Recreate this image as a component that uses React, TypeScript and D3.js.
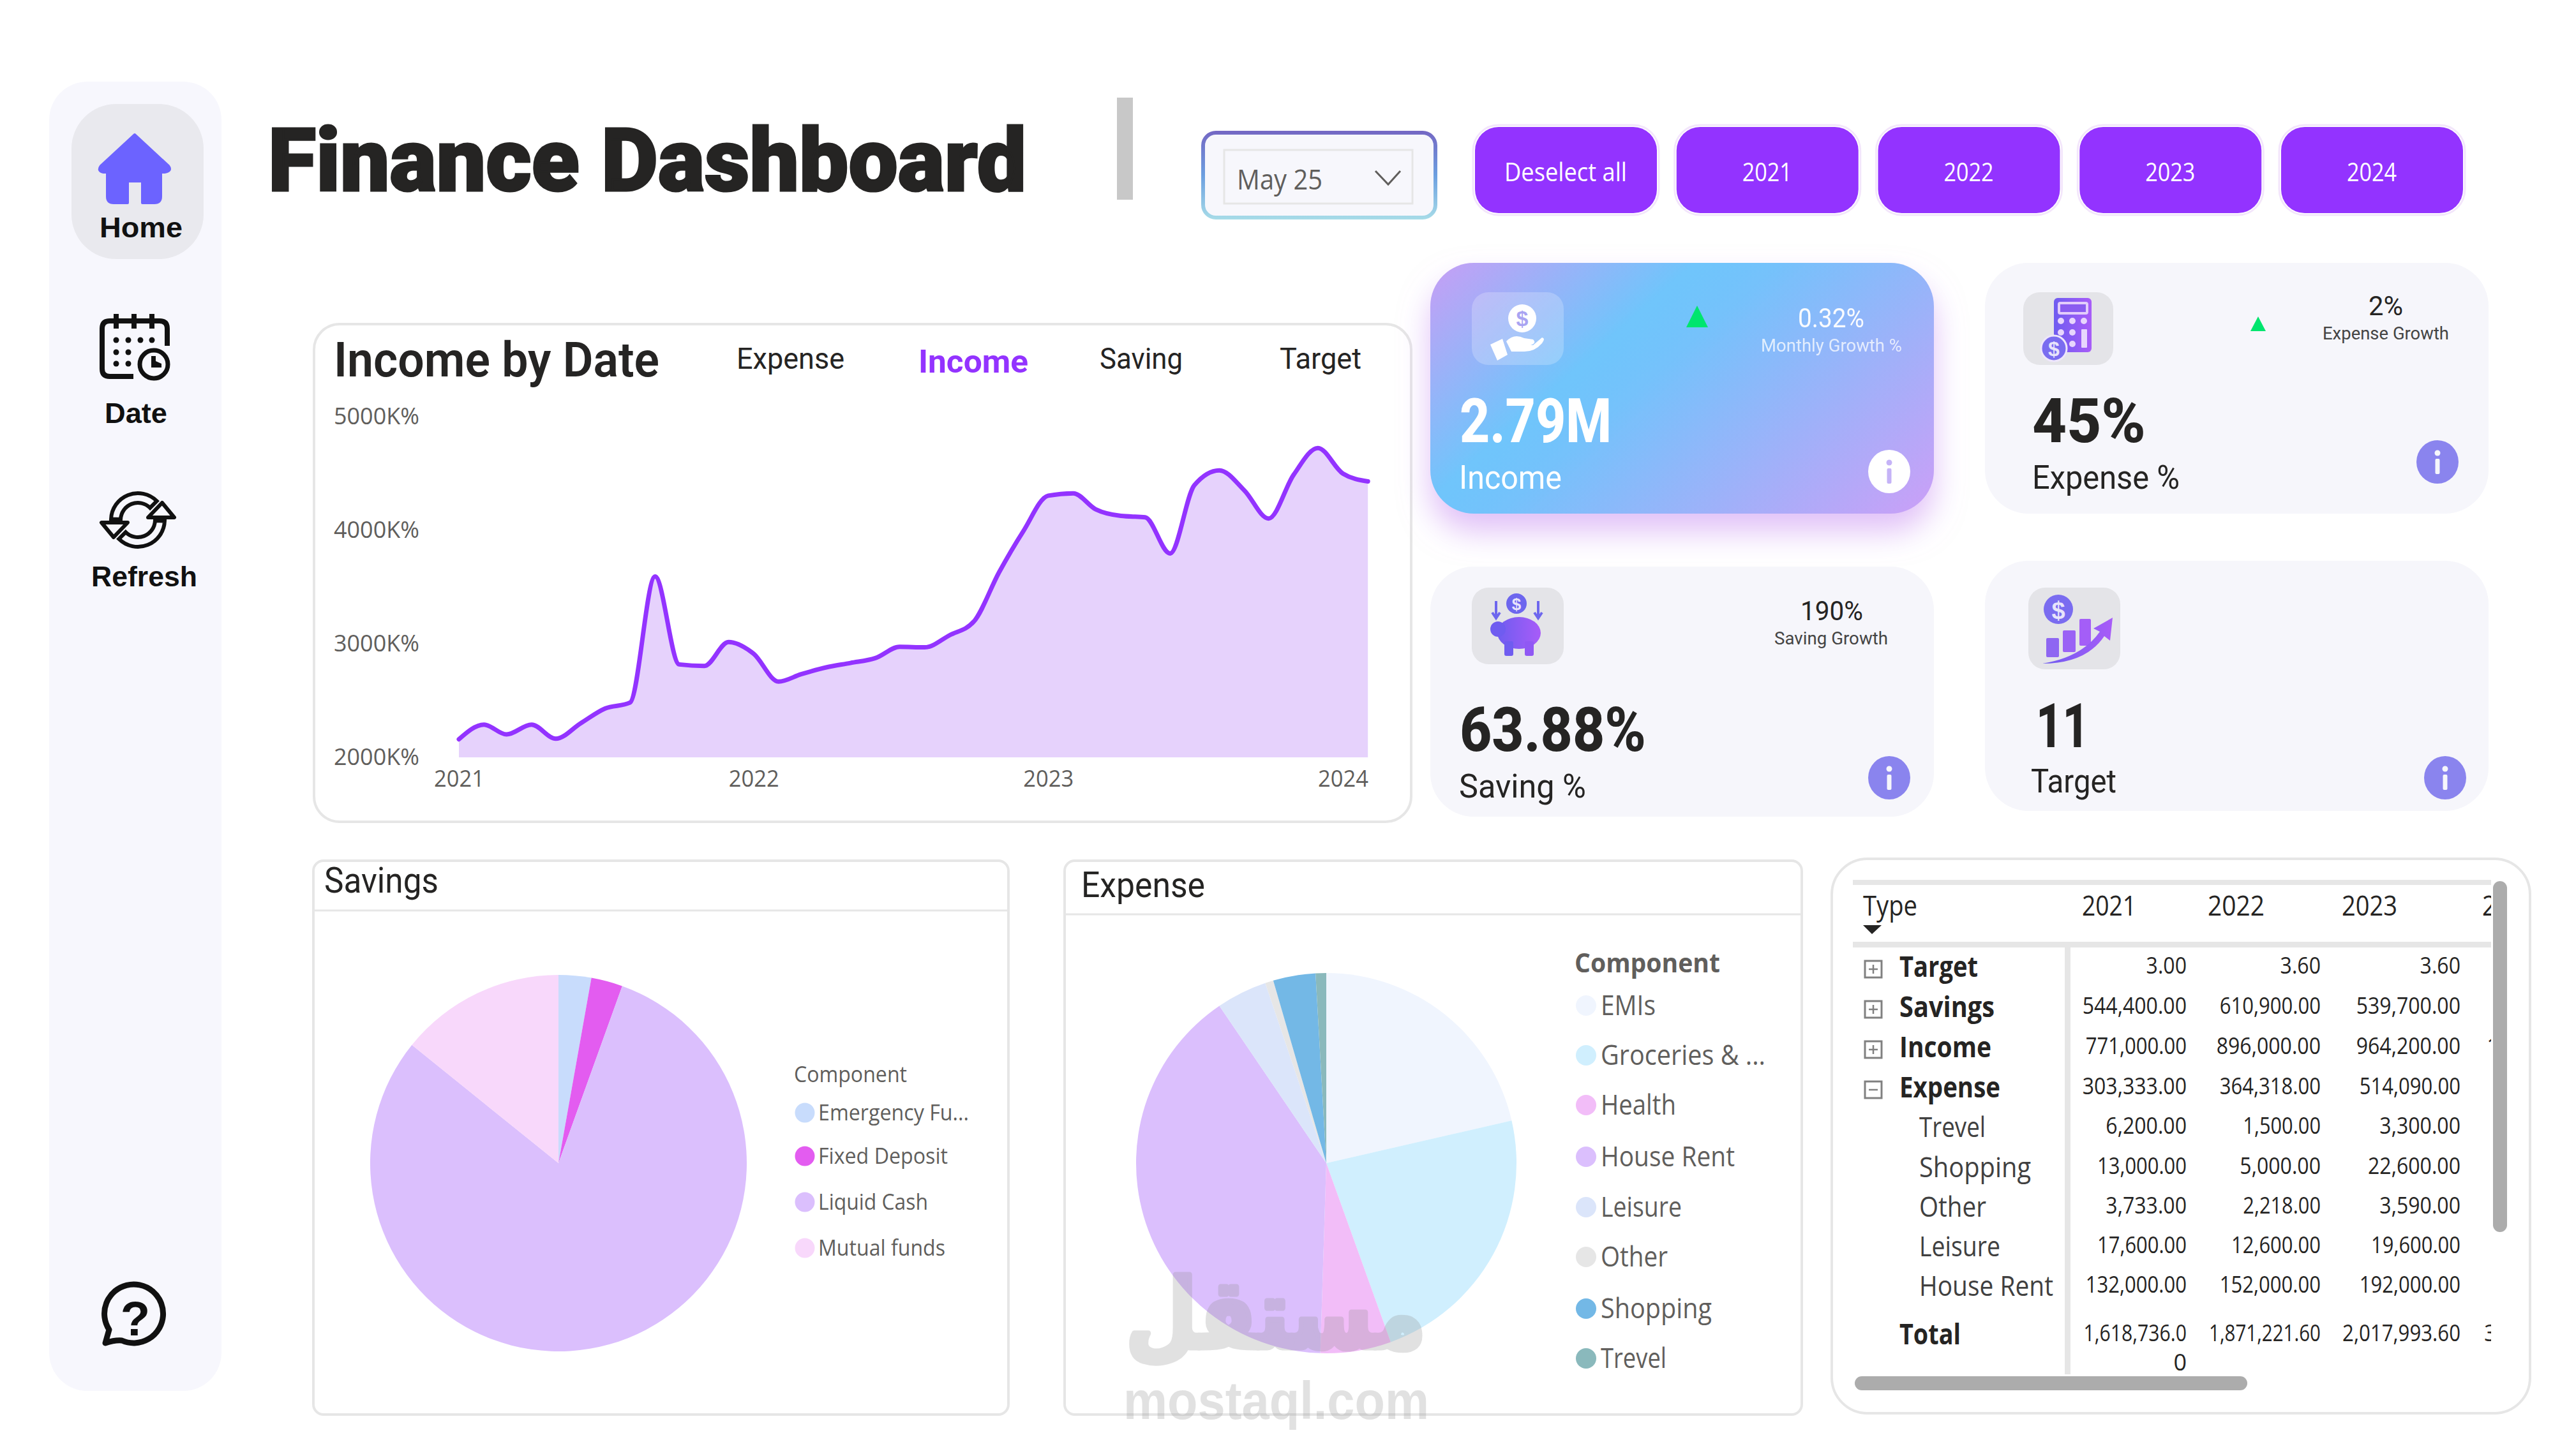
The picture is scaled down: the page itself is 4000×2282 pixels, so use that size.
import * as d3 from "d3"
import { useEffect, useRef } from "react"

// monthly income, Jan 2021 - Feb 2024 (K%)
const incomeValues = [
  2159, 2288, 2202, 2288, 2164, 2301, 2430, 2482, 3593, 2818, 2805, 3016, 2913, 2667, 2732, 2792, 2831, 2874, 2973,
  2969, 3076, 3197, 3628, 3990, 4304, 4325, 4183, 4126, 4114, 3795, 4396, 4527, 4350, 4103, 4488, 4724, 4499, 4430,
]
const yTicks = [2000, 3000, 4000, 5000]
const tabs = ["Expense", "Income", "Saving", "Target"]
const buttonLabels = ["Deselect all", "2021", "2022", "2023", "2024"]

const savingLabels = ["Emergency Fu...", "Fixed Deposit", "Liquid Cash", "Mutual funds"]
const savingValues = [2.8, 2.7, 80.3, 14.2]
const savingColors = ["#c8dcfc", "#e35cf0", "#dbbffd", "#f8d8fb"]

const expenseLabels = ["EMIs", "Groceries & ...", "Health", "House Rent", "Leisure", "Other", "Shopping", "Trevel"]
const expenseValues = [21.4, 23.1, 6.0, 40.0, 4.3, 0.7, 3.6, 0.9]
const expenseColors = ["#f0f5fe", "#d0effe", "#f2bdf8", "#dbbffd", "#dbe5fa", "#e6e6e6", "#73b8e6", "#8ab9bc"]

const tableYears = ["2021", "2022", "2023"]
const rowLabels = ["Target", "Savings", "Income", "Expense", "Trevel", "Shopping", "Other", "Leisure", "House Rent", "Total"]
const values2021 = [3, 544400, 771000, 303333, 6200, 13000, 3733, 17600, 132000, 1618736]
const values2022 = [3.6, 610900, 896000, 364318, 1500, 5000, 2218, 12600, 152000, 1871221.6]
const values2023 = [3.6, 539700, 964200, 514090, 3300, 22600, 3590, 19600, 192000, 2017993.6]

const OPEN = "'Open Sans', sans-serif"
const DIN = "Roboto, sans-serif"
const ARIAL = "'Liberation Sans', Arial, sans-serif"
const INK = "#252423"
const GREY = "#605e5c"
const PURPLE = "#9333ff"
const TILE = "#f6f6fb"

type Sel = d3.Selection<any, any, any, any>
type TextOpts = { size: number; weight?: number; color?: string; font?: string; anchor?: string; width?: number; squeeze?: number; opacity?: number }

function label(g: Sel, s: string, x: number, y: number, o: TextOpts) {
  const el = g
    .append("text")
    .attr("x", x)
    .attr("y", y)
    .attr("font-family", o.font ?? OPEN)
    .attr("font-size", o.size)
    .attr("font-weight", o.weight ?? 400)
    .attr("fill", o.color ?? INK)
    .attr("text-anchor", o.anchor ?? "start")
    .attr("opacity", o.opacity ?? 1)
    .text(s)
  const len = o.width ?? (o.squeeze ? (el.node() as SVGTextElement).getComputedTextLength() * o.squeeze : 0)
  if (len) el.attr("textLength", len).attr("lengthAdjust", "spacingAndGlyphs")
  return el
}

// table numbers: the reference font has a narrow "1", the installed one does not
function tableNumber(g: Sel, s: string, x: number, y: number) {
  const el = label(g, s, x, y, { size: 36, anchor: "end", color: INK })
  const ones = s.split("1").length - 1
  el.attr("textLength", (el.node() as SVGTextElement).getComputedTextLength() * 0.89 - 5 * ones).attr("lengthAdjust", "spacingAndGlyphs")
}

function box(g: Sel, x0: number, y0: number, x1: number, y1: number, r: number, fill: string, stroke = "none", sw = 0) {
  return g
    .append("rect")
    .attr("x", x0)
    .attr("y", y0)
    .attr("width", x1 - x0)
    .attr("height", y1 - y0)
    .attr("rx", r)
    .attr("fill", fill)
    .attr("stroke", stroke)
    .attr("stroke-width", sw)
}

function infoDot(g: Sel, cx: number, cy: number, fill: string, ink: string) {
  g.append("ellipse").attr("cx", cx).attr("cy", cy).attr("rx", 33).attr("ry", 34).attr("fill", fill)
  g.append("circle").attr("cx", cx).attr("cy", cy - 14).attr("r", 4.5).attr("fill", ink)
  g.append("rect").attr("x", cx - 3.5).attr("y", cy - 5).attr("width", 7).attr("height", 24).attr("rx", 2).attr("fill", ink)
}

function drawSidebar(svg: Sel) {
  box(svg, 77, 128, 347, 2180, 60, "#f7f7fd")
  box(svg, 112, 163, 319, 406, 70, "#e9e9ee")
  svg
    .append("path")
    .attr(
      "d",
      "M211,211 L264,260 Q270,268 258,270 L252,270 L252,308 Q252,318 242,318 L223,318 L223,284 L200,284 L200,318 L178,318 Q168,318 168,308 L168,270 L162,270 Q152,268 158,260 Z",
    )
    .attr("fill", "#6c63ff")
    .attr("stroke", "#6c63ff")
    .attr("stroke-width", 4)
    .attr("stroke-linejoin", "round")
  label(svg, "Home", 156, 372, { size: 44, weight: 700, font: ARIAL, color: "#111", width: 130 })

  // calendar with clock
  const cal = svg.append("g").attr("fill", "none").attr("stroke", "#111").attr("stroke-width", 8)
  cal.append("path").attr("d", "M209,590 L172,590 Q160,590 160,578 L160,515 Q160,503 172,503 L250,503 Q262,503 262,515 L262,542")
  ;[182, 210, 238].forEach((x) => cal.append("line").attr("x1", x).attr("x2", x).attr("y1", 492).attr("y2", 515))
  cal.append("circle").attr("cx", 241).attr("cy", 571).attr("r", 22).attr("stroke-width", 7)
  svg.append("path").attr("d", "M237,558 L244,558 L244,566 L253,570 L253,576 L237,576 Z").attr("fill", "#111")
  const dots: [number, number][] = [
    [182, 533], [201, 533], [220, 533], [238, 533],
    [182, 552], [201, 552],
    [182, 570], [201, 570],
  ]
  dots.forEach(([x, y]) => svg.append("circle").attr("cx", x).attr("cy", y).attr("r", 4.5).attr("fill", "#111"))
  label(svg, "Date", 164, 663, { size: 44, weight: 700, font: ARIAL, color: "#111", width: 98 })

  // refresh arrows
  const ring = d3.arc<any>().innerRadius(27).outerRadius(42)
  ;[0, 180].forEach((rot) => {
    const a = svg.append("g").attr("transform", `translate(216,815) rotate(${rot})`)
    a.append("path")
      .attr("d", ring({ startAngle: (-88 * Math.PI) / 180, endAngle: (45 * Math.PI) / 180 }) as string)
      .attr("fill", "#f7f7fd")
      .attr("stroke", "#111")
      .attr("stroke-width", 6)
    a.append("path")
      .attr("d", "M-57,4 L-16,4 L-38,27 Z")
      .attr("fill", "#f7f7fd")
      .attr("stroke", "#111")
      .attr("stroke-width", 6)
      .attr("stroke-linejoin", "round")
  })
  label(svg, "Refresh", 143, 919, { size: 44, weight: 700, font: ARIAL, color: "#111", width: 166 })

  // help bubble
  svg
    .append("path")
    .attr("d", "M165,2105 L171,2084 A46,46 0 1 1 191,2101 Q180,2100 165,2105 Z")
    .attr("fill", "none")
    .attr("stroke", "#111")
    .attr("stroke-width", 9)
    .attr("stroke-linejoin", "round")
  label(svg, "?", 212, 2093, { size: 76, weight: 700, font: ARIAL, color: "#111", anchor: "middle" })
}

function drawHeader(svg: Sel) {
  label(svg, "Finance Dashboard", 420, 299, { size: 138, weight: 900, font: DIN, width: 1188 }).attr("stroke", INK).attr("stroke-width", 3)
  box(svg, 1750, 153, 1775, 313, 0, "#c8c8c8")

  box(svg, 1885, 208, 2249, 341, 20, "#f7f7fc", "url(#dropStroke)", 6)
  box(svg, 1918, 235, 2213, 319, 0, "#f7f7fc", "#e6e6e6", 3)
  label(svg, "May 25", 1938, 297, { size: 44, color: GREY, width: 134 })
  svg.append("path").attr("d", "M2155,268 L2175,289 L2194,268").attr("fill", "none").attr("stroke", GREY).attr("stroke-width", 3)

  const bx = d3.scalePoint<string>().domain(buttonLabels).range([2311, 3574])
  buttonLabels.forEach((b, i) => {
    const x = bx(b) as number
    box(svg, x - 3, 196, x + 288, 337, 40, "#fff", "#f3e6fb", 3)
    box(svg, x, 199, x + 285, 334, 37, PURPLE)
    label(svg, b, x + 142, 284, { size: 40, weight: 500, color: "#fff", anchor: "middle", width: i === 0 ? 192 : 78 })
  })
}

function drawIncomeChart(svg: Sel) {
  box(svg, 492, 508, 2211, 1288, 40, "#fff", "#e6e6e6", 4)
  label(svg, "Income by Date", 523, 590, { size: 76, weight: 600, font: DIN, width: 510 })

  const tabX = [1154, 1439, 1723, 2005]
  const tabW = [169, 172, 130, 128]
  tabs.forEach((t, i) => {
    const on = t === "Income"
    label(svg, t, tabX[i], on ? 584 : 578, { size: on ? 50 : 46, weight: on ? 700 : 400, font: DIN, color: on ? PURPLE : INK, width: tabW[i] })
  })

  const months = incomeValues.map((_, i) => new Date(2021, i, 1))
  const x = d3.scaleTime().domain([new Date(2021, 0, 1), new Date(2024, 0, 1)]).range([719, 2104])
  const y = d3.scaleLinear().domain([2000, 5000]).range([1187, 653])

  const area = d3
    .area<number>()
    .x((_, i) => x(months[i]))
    .y0(y(2000))
    .y1((d) => y(d))
    .curve(d3.curveMonotoneX)
  const line = d3
    .line<number>()
    .x((_, i) => x(months[i]))
    .y((d) => y(d))
    .curve(d3.curveMonotoneX)

  svg.append("path").attr("d", area(incomeValues)).attr("fill", "#e6d2fc")
  svg
    .append("path")
    .attr("d", line(incomeValues))
    .attr("fill", "none")
    .attr("stroke", PURPLE)
    .attr("stroke-width", 7)
    .attr("stroke-linecap", "round")

  const yAxis = svg
    .append("g")
    .attr("transform", "translate(523,0)")
    .call(d3.axisLeft(y).tickValues(yTicks).tickSize(0).tickFormat((d) => `${d}K%`))
  yAxis.select(".domain").remove()
  yAxis
    .selectAll("text")
    .attr("x", 0)
    .attr("text-anchor", "start")
    .attr("font-family", OPEN)
    .attr("font-size", 36)
    .attr("fill", GREY)
    .attr("textLength", 134)
    .attr("lengthAdjust", "spacingAndGlyphs")

  const xAxis = svg
    .append("g")
    .attr("transform", "translate(0,1187)")
    .call(
      d3
        .axisBottom(x)
        .tickValues(d3.timeYears(new Date(2021, 0, 1), new Date(2025, 0, 1)))
        .tickSize(0)
        .tickFormat((d) => d3.timeFormat("%Y")(d as Date)),
    )
  xAxis.select(".domain").remove()
  xAxis
    .selectAll("text")
    .attr("y", 46)
    .attr("dy", 0)
    .attr("font-family", OPEN)
    .attr("font-size", 36)
    .attr("fill", GREY)
    .attr("textLength", 79)
    .attr("lengthAdjust", "spacingAndGlyphs")
}

function drawTiles(svg: Sel) {
  const bigNumber = { size: 96, weight: 800, font: DIN }

  // income tile
  box(svg, 2241, 412, 3030, 805, 68, "url(#incomeGrad)").attr("filter", "url(#tileShadow)")
  box(svg, 2306, 458, 2450, 572, 26, "#ffffff").attr("opacity", 0.22)
  svg.append("circle").attr("cx", 2385).attr("cy", 499).attr("r", 22).attr("fill", "#fff")
  label(svg, "$", 2385, 511, { size: 34, weight: 700, font: ARIAL, color: "#a9a4f2", anchor: "middle" })
  svg.append("path").attr("d", "M2360,535 Q2372,522 2388,530 L2402,532 Q2408,538 2398,541 L2382,541 L2402,541 L2416,529 Q2422,530 2416,538 Q2404,552 2386,551 L2368,551 Z").attr("fill", "#fff")
  svg.append("path").attr("d", "M2335,540 L2354,531 L2362,556 L2346,565 Z").attr("fill", "#fff")
  svg.append("path").attr("d", "M2642,513 L2659,479 L2676,513 Z").attr("fill", "#00e56e")
  label(svg, "0.32%", 2817, 513, { size: 42, color: "#fff", font: DIN, width: 104, opacity: 0.95 })
  label(svg, "Monthly Growth %", 2759, 551, { size: 28, color: "#fff", font: DIN, width: 221, opacity: 0.75 })
  label(svg, "2.79M", 2287, 693, { ...bigNumber, color: "#fff", width: 238 })
  label(svg, "Income", 2286, 766, { size: 52, color: "#fff", font: DIN, width: 161 })
  infoDot(svg, 2960, 739, "#fff", "#c5b3f7")

  // expense tile
  box(svg, 3110, 412, 3899, 805, 68, TILE)
  box(svg, 3170, 458, 3311, 572, 26, "#e4e4e8")
  box(svg, 3218, 467, 3277, 552, 6, "url(#iconGrad)")
  box(svg, 3226, 475, 3270, 491, 2, "#8a5cf0", "#e2ccfb", 4)
  const keys: [number, number][] = [
    [3229, 503], [3247, 503], [3265, 503],
    [3229, 521], [3247, 521],
    [3247, 539],
  ]
  keys.forEach(([x, y]) => svg.append("circle").attr("cx", x).attr("cy", y).attr("r", 5).attr("fill", "#e8d6fd"))
  box(svg, 3261, 516, 3270, 545, 1, "#e8d6fd")
  svg.append("circle").attr("cx", 3218).attr("cy", 546).attr("r", 20).attr("fill", "#7a6cf0").attr("stroke", "#eee6fb").attr("stroke-width", 3)
  label(svg, "$", 3218, 558, { size: 32, weight: 700, font: ARIAL, color: "#e8e4fb", anchor: "middle" })
  svg.append("path").attr("d", "M3526,519 L3538,496 L3550,519 Z").attr("fill", "#00e56e")
  label(svg, "2%", 3711, 494, { size: 42, font: DIN, width: 54 })
  label(svg, "Expense Growth", 3639, 532, { size: 28, color: "#444", font: DIN, width: 198 })
  label(svg, "45%", 3184, 693, { ...bigNumber, width: 178 })
  label(svg, "Expense %", 3184, 766, { size: 52, font: DIN, width: 231 })
  infoDot(svg, 3819, 724, "#8a84ee", "#f6f6fb")

  // saving tile
  box(svg, 2241, 888, 3030, 1280, 68, TILE)
  box(svg, 2306, 921, 2450, 1041, 26, "#e4e4e8")
  svg.append("circle").attr("cx", 2376).attr("cy", 946).attr("r", 16).attr("fill", "#6d66ee")
  label(svg, "$", 2376, 956, { size: 26, weight: 700, font: ARIAL, color: "#e8e4fb", anchor: "middle" })
  ;[2344, 2410].forEach((ax) => {
    svg.append("path").attr("d", `M${ax},942 L${ax},968 M${ax - 6},960 L${ax},969 L${ax + 6},960`).attr("fill", "none").attr("stroke", "#6d66ee").attr("stroke-width", 4)
  })
  svg.append("ellipse").attr("cx", 2380).attr("cy", 992).attr("rx", 34).attr("ry", 25).attr("fill", "url(#iconGrad)")
  box(svg, 2357, 1005, 2371, 1028, 3, "#6f5cf0")
  box(svg, 2389, 1005, 2403, 1028, 3, "#9058f4")
  svg.append("circle").attr("cx", 2347).attr("cy", 986).attr("r", 12).attr("fill", "#6f5cf0")
  label(svg, "190%", 2821, 972, { size: 42, font: DIN, width: 98 })
  label(svg, "Saving Growth", 2780, 1010, { size: 28, color: "#444", font: DIN, width: 178 })
  label(svg, "63.88%", 2287, 1177, { ...bigNumber, width: 292 })
  label(svg, "Saving %", 2286, 1250, { size: 52, font: DIN, width: 199 })
  infoDot(svg, 2960, 1219, "#8a84ee", "#f6f6fb")

  // target tile
  box(svg, 3110, 879, 3899, 1271, 68, TILE)
  box(svg, 3178, 921, 3322, 1049, 26, "#e4e4e8")
  svg.append("circle").attr("cx", 3225).attr("cy", 955).attr("r", 23).attr("fill", "#7a6cf0")
  label(svg, "$", 3225, 970, { size: 38, weight: 700, font: ARIAL, color: "#e8e4fb", anchor: "middle" })
  box(svg, 3206, 1000, 3226, 1030, 2, "#8e66f2")
  box(svg, 3232, 988, 3252, 1022, 2, "#9a62f5")
  box(svg, 3258, 970, 3276, 1012, 2, "#a45ef7")
  svg.append("path").attr("d", "M3200,1040 Q3262,1030 3290,990 L3280,985 L3310,968 L3306,1004 L3297,997 Q3268,1040 3200,1040 Z").attr("fill", "url(#iconGrad)")
  label(svg, "11", 3190, 1171, { ...bigNumber, width: 83 })
  label(svg, "Target", 3182, 1242, { size: 52, font: DIN, width: 134 })
  infoDot(svg, 3831, 1219, "#8a84ee", "#f6f6fb")
}

function drawPie(g: Sel, values: number[], colors: string[], cx: number, cy: number, r: number) {
  const arcs = d3.pie<number>().sort(null)(values)
  const arc = d3.arc<d3.PieArcDatum<number>>().innerRadius(0).outerRadius(r)
  g.append("g")
    .attr("transform", `translate(${cx},${cy})`)
    .selectAll("path")
    .data(arcs)
    .join("path")
    .attr("d", arc)
    .attr("fill", (_, i) => colors[i])
}

function drawSavings(svg: Sel) {
  box(svg, 491, 1349, 1580, 2217, 16, "#fff", "#e6e6e6", 4)
  svg.append("line").attr("x1", 491).attr("x2", 1580).attr("y1", 1427).attr("y2", 1427).attr("stroke", "#e6e6e6").attr("stroke-width", 3)
  label(svg, "Savings", 508, 1399, { size: 56, font: DIN, width: 179 })
  drawPie(svg, savingValues, savingColors, 875, 1823, 295)
  label(svg, "Component", 1244, 1696, { size: 34, color: GREY, width: 177 })
  const ys = [1744, 1812, 1884, 1956]
  const ws = [236, 203, 172, 199]
  savingLabels.forEach((s, i) => {
    svg.append("circle").attr("cx", 1261).attr("cy", ys[i]).attr("r", 15.5).attr("fill", savingColors[i])
    label(svg, s, 1282, ys[i] + 12, { size: 34, color: GREY, width: ws[i] })
  })
}

function drawExpense(svg: Sel) {
  box(svg, 1668, 1349, 2823, 2217, 16, "#fff", "#e6e6e6", 4)
  svg.append("line").attr("x1", 1668).attr("x2", 2823).attr("y1", 1433).attr("y2", 1433).attr("stroke", "#e6e6e6").attr("stroke-width", 3)
  label(svg, "Expense", 1694, 1406, { size: 56, font: DIN, width: 194 })
  drawPie(svg, expenseValues, expenseColors, 2078, 1823, 298)
  label(svg, "Component", 2467, 1524, { size: 42, weight: 700, color: GREY, width: 228 })
  const ys = [1576, 1654, 1732, 1813, 1892, 1970, 2051, 2129]
  const ws = [86, 258, 118, 210, 127, 105, 174, 103]
  expenseLabels.forEach((s, i) => {
    svg.append("circle").attr("cx", 2485).attr("cy", ys[i]).attr("r", 16).attr("fill", expenseColors[i])
    label(svg, s, 2508, ys[i] + 15, { size: 44, color: GREY, width: ws[i] })
  })
}

function drawTable(svg: Sel) {
  box(svg, 2870, 1346, 3964, 2215, 56, "#fff", "#e6e6e6", 4)
  const clipped = svg.append("g").attr("clip-path", "url(#tableClip)")
  box(clipped, 2903, 1379, 3903, 1387, 0, "#e6e6e6")
  box(clipped, 2903, 1476, 3903, 1485, 0, "#e6e6e6")
  box(clipped, 3235, 1485, 3244, 2154, 0, "#e6e6e6")

  label(clipped, "Type", 2919, 1435, { size: 44, width: 85 })
  svg.append("path").attr("d", "M2919,1450 L2948,1450 L2933,1464 Z").attr("fill", INK)

  const headX = [3262, 3459, 3669]
  const headW = [85, 89, 87]
  tableYears.forEach((h, i) => label(clipped, h, headX[i], 1435, { size: 44, width: headW[i] }))
  label(clipped, "2024", 3889, 1435, { size: 44, width: 87 })

  const rowY = [1526, 1589, 1652, 1715, 1777, 1840, 1902, 1964, 2026, 2102]
  const fmt = d3.format(",.2f")
  const columns = [values2021, values2022, values2023]
  const colRight = [3426, 3636, 3855]
  const labelW = [123, 149, 144, 158, 104, 175, 105, 127, 210, 96]

  rowLabels.forEach((name, r) => {
    const top = r < 4 || r === 9
    label(clipped, name, top ? 2976 : 3007, rowY[r] + 5, { size: 44, weight: top ? 700 : 400, color: top ? INK : "#404040", width: labelW[r] })
    if (r < 4) {
      const cy = rowY[r] - 7
      box(clipped, 2922, cy - 13, 2948, cy + 13, 0, "none", "#808080", 3)
      clipped.append("line").attr("x1", 2928).attr("x2", 2942).attr("y1", cy).attr("y2", cy).attr("stroke", "#808080").attr("stroke-width", 2.5)
      if (r < 3) clipped.append("line").attr("x1", 2935).attr("x2", 2935).attr("y1", cy - 7).attr("y2", cy + 7).attr("stroke", "#808080").attr("stroke-width", 2.5)
    }
    columns.forEach((col, c) => {
      const s = fmt(col[r])
      // the first total is too wide for its column and wraps
      if (r === 9 && c === 0) {
        tableNumber(clipped, s.slice(0, -1), colRight[c], rowY[r])
        label(clipped, s.slice(-1), colRight[c], 2148, { size: 36, anchor: "end", color: INK })
      } else {
        tableNumber(clipped, s, colRight[c], rowY[r])
      }
    })
  })
  label(clipped, "1", 3896, rowY[2], { size: 36, color: INK })
  label(clipped, "3", 3892, rowY[9], { size: 36, color: INK })

  box(svg, 3906, 1381, 3928, 1931, 11, "#acacac")
  box(svg, 2906, 2157, 3521, 2179, 11, "#acacac")
}

function drawWatermark(svg: Sel) {
  const w = svg.append("g").attr("opacity", 0.26).attr("pointer-events", "none")
  label(w, "مستقل", 1999, 2112, { size: 150, weight: 700, font: "'DejaVu Sans', sans-serif", color: "#8f8f8f", anchor: "middle", width: 470 })
    .attr("direction", "rtl")
    .attr("stroke", "#8f8f8f")
    .attr("stroke-width", 9)
    .attr("stroke-linejoin", "round")
  label(w, "mostaql.com", 1760, 2224, { size: 84, weight: 700, font: ARIAL, color: "#8f8f8f", width: 479 })
}

export default function App() {
  const svgRef = useRef<SVGSVGElement>(null)

  useEffect(() => {
    if (!svgRef.current) return
    document.body.style.margin = "0"
    const svg = d3.select(svgRef.current)
    svg.selectAll("*").remove()

    const defs = svg.append("defs")
    const grad = (id: string, x1: number, y1: number, x2: number, y2: number, stops: [number, string][]) => {
      const g = defs.append("linearGradient").attr("id", id).attr("gradientUnits", "userSpaceOnUse").attr("x1", x1).attr("y1", y1).attr("x2", x2).attr("y2", y2)
      stops.forEach(([o, c]) => g.append("stop").attr("offset", o).attr("stop-color", c))
    }
    grad("incomeGrad", 2241, 412, 2787, 1022, [[0, "#c79ef5"], [0.34, "#6fc5fb"], [0.44, "#74c2fb"], [1, "#cb9ff7"]])
    grad("dropStroke", 0, 206, 0, 343, [[0, "#7468c4"], [0.5, "#6c9fe0"], [1, "#a6dbe8"]])
    grad("iconGrad", 2300, 0, 2460, 0, [[0, "#6f5cf0"], [1, "#a85cf8"]])
    defs.select("#iconGrad").attr("gradientUnits", "objectBoundingBox").attr("x1", 0).attr("x2", 1).attr("y1", 0).attr("y2", 0)
    defs
      .append("filter")
      .attr("id", "tileShadow")
      .attr("x", "-10%")
      .attr("y", "-10%")
      .attr("width", "120%")
      .attr("height", "140%")
      .append("feDropShadow")
      .attr("dx", 0)
      .attr("dy", 28)
      .attr("stdDeviation", 24)
      .attr("flood-color", "#c78cf2")
      .attr("flood-opacity", 0.55)
    defs.append("clipPath").attr("id", "tableClip").append("rect").attr("x", 2903).attr("y", 1370).attr("width", 1000).attr("height", 800)

    drawSidebar(svg)
    drawHeader(svg)
    drawIncomeChart(svg)
    drawTiles(svg)
    drawSavings(svg)
    drawExpense(svg)
    drawTable(svg)
    drawWatermark(svg)
  }, [])

  return <svg ref={svgRef} width={4000} height={2282} style={{ position: "fixed", left: 0, top: 0, background: "#fff" }} />
}
